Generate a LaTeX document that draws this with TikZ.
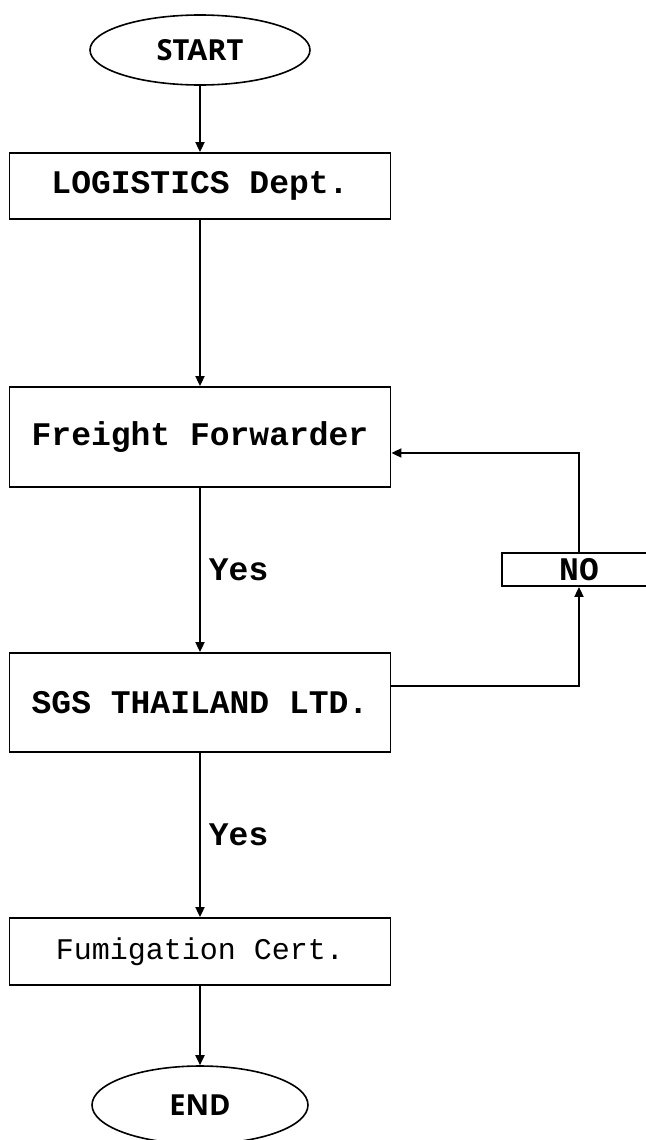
\documentclass[tikz,border=0pt]{standalone}
\usepackage{fontspec}
\setmonofont{Liberation Mono}
\newfontfamily\termfont{Open Sans}
\usetikzlibrary{shapes.geometric,arrows.meta}
\tikzset{
  flow/.style={draw=black, line width=1.8pt, -{Triangle[length=10pt,width=9pt]}},
  term/.style={ellipse, draw=black, line width=1.6pt, inner sep=0pt, font=\termfont\bfseries\fontsize{29}{31}\selectfont},
  procbox/.style={rectangle, draw=black, line width=1.8pt, inner sep=0pt, minimum width=381pt, font=\ttfamily\bfseries\fontsize{33}{36}\selectfont},
  lightbox/.style={rectangle, draw=black, line width=1.8pt, inner sep=0pt, minimum width=381pt, font=\ttfamily\fontsize{30}{33}\selectfont},
  yeslabel/.style={anchor=west, inner sep=0pt, xshift=8pt, font=\ttfamily\bfseries\fontsize{33}{36}\selectfont},
  nobox/.style={rectangle, draw=black, line width=1.8pt, inner sep=0pt, minimum width=154pt, minimum height=33pt, font=\ttfamily\bfseries\fontsize{33}{36}\selectfont}
}
\begin{document}
\begin{tikzpicture}[x=1pt,y=-1pt]
\useasboundingbox (0,0) rectangle (645,1140);
\node[term, minimum width=220pt, minimum height=70pt] (start) at (200,50) {START};
\node[procbox, minimum height=66pt] (log) at (200,186) {LOGISTICS Dept.};
\node[procbox, minimum height=100pt] (ff) at (200,437) {Freight Forwarder};
\node[procbox, minimum height=99pt] (sgs) at (200,702.5) {SGS THAILAND LTD.};
\node[lightbox, minimum height=67pt] (fum) at (200,951.5) {Fumigation Cert.};
\node[term, minimum width=216pt, minimum height=78pt] (end) at (200,1105) {END};
\node[nobox] (no) at (579,569.5) {NO};
\coordinate (c1) at (579,686);
\coordinate (c2) at (579,453);
\draw[flow] (start.south) -- (log.north);
\draw[flow] (log.south) -- (ff.north);
\draw[flow] (ff.south) -- node[yeslabel] {Yes} (sgs.north);
\draw[flow] (sgs.south) -- node[yeslabel] {Yes} (fum.north);
\draw[flow] (fum.south) -- (end.north);
\draw[flow] (sgs.east |- c1) -- (c1) -- (no.south);
\draw[flow] (no.north) -- (c2) -- (ff.east |- c2);
\end{tikzpicture}
\end{document}
